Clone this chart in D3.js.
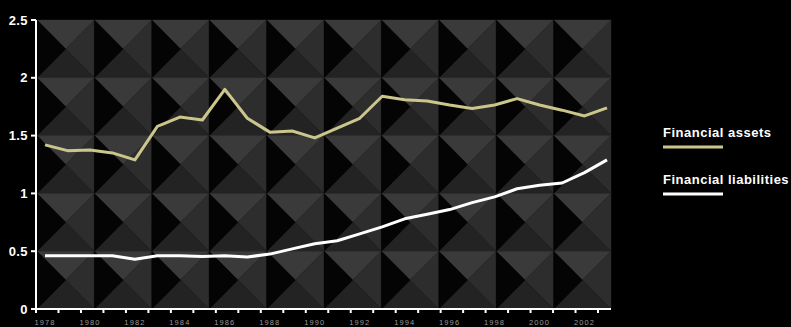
<!DOCTYPE html>
<html>
<head>
<meta charset="utf-8">
<script src="https://cdn.jsdelivr.net/npm/d3@7"></script>
<style>
  html, body { margin: 0; padding: 0; background: #000; }
  svg { display: block; }
</style>
</head>
<body>
<script>
// Household balance sheet ratios, 1978–2003
const years = d3.range(1978, 2004);
const financialAssets = [1.42, 1.37, 1.375, 1.35, 1.29, 1.58, 1.66, 1.635, 1.90, 1.65,
  1.53, 1.54, 1.48, 1.565, 1.65, 1.84, 1.81, 1.80, 1.765, 1.735,
  1.765, 1.82, 1.765, 1.72, 1.67, 1.74];
const financialLiabilities = [0.46, 0.46, 0.46, 0.46, 0.43, 0.46, 0.46, 0.455, 0.46, 0.45,
  0.475, 0.52, 0.565, 0.59, 0.65, 0.71, 0.78, 0.82, 0.86, 0.92,
  0.97, 1.04, 1.07, 1.09, 1.18, 1.29];
const yTicks = [0, 0.5, 1, 1.5, 2, 2.5];
const yTickLabels = ["0", "0.5", "1", "1.5", "2", "2.5"];
const xLabelYears = d3.range(1978, 2004, 2);
const seriesNames = ["Financial assets", "Financial liabilities"];
const seriesColors = ["#cbc68c", "#ffffff"];

const W = 791, H = 327;
const plot = { left: 37, right: 611, top: 20, bottom: 309 };

const svg = d3.select("body").append("svg")
  .attr("width", W).attr("height", H);

svg.append("rect").attr("width", W).attr("height", H).attr("fill", "#000");

const x = d3.scaleLinear().domain([1978, 2003]).range([45, 607]);
const y = d3.scaleLinear().domain([0, 2.5]).range([plot.bottom, plot.top]);

// Pyramid-stud backdrop: each cell split into four shaded triangles
const nCols = 10;
const cellW = (plot.right - plot.left) / nCols;
const rowEdges = yTicks.slice().reverse(); // 2.5 .. 0
const cells = [];
for (let r = 0; r < rowEdges.length - 1; r++) {
  for (let c = 0; c < nCols; c++) {
    cells.push({
      x0: plot.left + c * cellW, x1: plot.left + (c + 1) * cellW,
      y0: y(rowEdges[r]), y1: y(rowEdges[r + 1])
    });
  }
}
const facets = [
  { fill: "#3a3a3a", pts: d => [[d.x0, d.y0], [d.x1, d.y0]] },
  { fill: "#2d2d2d", pts: d => [[d.x1, d.y0], [d.x1, d.y1]] },
  { fill: "#232323", pts: d => [[d.x1, d.y1], [d.x0, d.y1]] },
  { fill: "#040404", pts: d => [[d.x0, d.y1], [d.x0, d.y0]] }
];
const bg = svg.append("g");
cells.forEach(d => {
  const cx = (d.x0 + d.x1) / 2, cy = (d.y0 + d.y1) / 2;
  facets.forEach(f => {
    const p = f.pts(d).concat([[cx, cy]]);
    bg.append("polygon")
      .attr("points", p.map(q => q.join(",")).join(" "))
      .attr("fill", f.fill)
      .attr("stroke", f.fill).attr("stroke-width", 0.4);
  });
});

// Axes
const axisG = svg.append("g").attr("stroke", "#fff").attr("stroke-width", 2);
axisG.append("line")
  .attr("x1", plot.left - 1).attr("x2", plot.left - 1)
  .attr("y1", y(2.5)).attr("y2", y(0) + 1);
axisG.append("line")
  .attr("x1", plot.left - 1).attr("x2", plot.right)
  .attr("y1", y(0)).attr("y2", y(0));
axisG.selectAll(".yt").data(yTicks).enter().append("line")
  .attr("x1", plot.left - 6).attr("x2", plot.left - 1)
  .attr("y1", d => y(d)).attr("y2", d => y(d));
axisG.selectAll(".xt").data(years).enter().append("line")
  .attr("x1", d => x(d - 0.4)).attr("x2", d => x(d - 0.4))
  .attr("y1", y(0)).attr("y2", y(0) + 4);

svg.selectAll(".ylab").data(yTicks).enter().append("text")
  .attr("x", 28).attr("y", d => y(d))
  .attr("dy", "0.36em")
  .attr("text-anchor", "end")
  .attr("fill", "#fff")
  .attr("font-family", "Liberation Sans, Arial, sans-serif")
  .attr("font-weight", "bold")
  .attr("font-size", 13)
  .attr("letter-spacing", 0.4)
  .text((d, i) => yTickLabels[i]);

svg.selectAll(".xlab").data(xLabelYears).enter().append("text")
  .attr("x", d => x(d)).attr("y", 325)
  .attr("text-anchor", "middle")
  .attr("fill", "#9a9a9a")
  .attr("font-family", "Liberation Sans, Arial, sans-serif")
  .attr("font-size", 7.5)
  .attr("letter-spacing", 1.1)
  .text(d => d);

// Series lines
const line = d3.line().x((d, i) => x(years[i])).y(d => y(d));
[financialAssets, financialLiabilities].forEach((s, k) => {
  svg.append("path")
    .datum(s)
    .attr("d", line)
    .attr("fill", "none")
    .attr("stroke", seriesColors[k])
    .attr("stroke-width", 3)
    .attr("stroke-linejoin", "round");
});

// Legend
const legend = svg.append("g").attr("transform", "translate(663,0)");
seriesNames.forEach((name, k) => {
  const top = 137 + k * 47;
  legend.append("text")
    .attr("x", 0).attr("y", top)
    .attr("fill", "#fff")
    .attr("font-family", "Liberation Sans, Arial, sans-serif")
    .attr("font-weight", "bold")
    .attr("font-size", 13)
    .attr("letter-spacing", 0.5)
    .text(name);
  legend.append("line")
    .attr("x1", 0).attr("x2", 60)
    .attr("y1", top + 10).attr("y2", top + 10)
    .attr("stroke", seriesColors[k])
    .attr("stroke-width", 3);
});
</script>
</body>
</html>
